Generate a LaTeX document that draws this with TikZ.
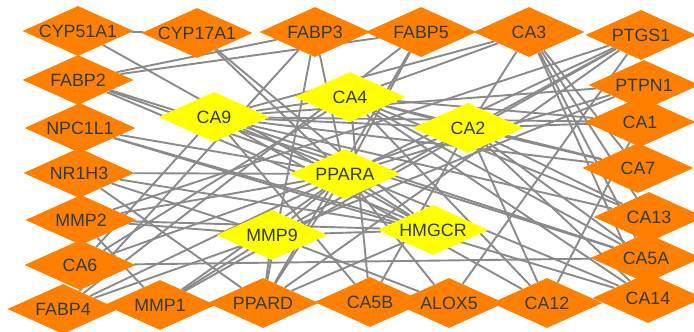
\documentclass[tikz,border=0pt]{standalone}
\usepackage{fontspec}
\setmainfont{Liberation Sans}
\usetikzlibrary{shapes.geometric,backgrounds}
\definecolor{gene}{HTML}{FF8000}
\definecolor{hub}{HTML}{FFFF00}
\definecolor{lbl}{HTML}{2F3B35}
\definecolor{link}{HTML}{8A8A8A}
\tikzset{
  gtext/.style={text=lbl, font=\fontsize{17.8}{18}\selectfont, inner sep=0pt},
  gbase/.style={shape=diamond, minimum width=111pt, minimum height=50pt,
    inner sep=0pt, label={[gtext]center:#1}},
  gnode/.style={gbase=#1, fill=gene},
  hnode/.style={gbase=#1, fill=hub},
  ppi/.style={draw=link, line width=1.9pt}
}
\begin{document}
\begin{tikzpicture}[x=1pt,y=-1pt]
\useasboundingbox (0,0) rectangle (694,332);
% outer ring of genes
\node[gnode=CYP51A1] (CYP51A1) at (78,31) {};
\node[gnode=CYP17A1] (CYP17A1) at (197,33) {};
\node[gnode=FABP3] (FABP3) at (315,32) {};
\node[gnode=FABP5] (FABP5) at (421,32) {};
\node[gnode=CA3] (CA3) at (529,32) {};
\node[gnode=PTGS1] (PTGS1) at (641,35) {};
\node[gnode=FABP2] (FABP2) at (78,80) {};
\node[gnode=PTPN1] (PTPN1) at (644,85) {};
\node[gnode=NPC1L1] (NPC1L1) at (80,128) {};
\node[gnode=CA1] (CA1) at (640,122) {};
\node[gnode=NR1H3] (NR1H3) at (79,173) {};
\node[gnode=CA7] (CA7) at (638,168) {};
\node[gnode=MMP2] (MMP2) at (81,220) {};
\node[gnode=CA13] (CA13) at (649,217) {};
\node[gnode=CA6] (CA6) at (80,265) {};
\node[gnode=CA5A] (CA5A) at (646,258) {};
\node[gnode=FABP4] (FABP4) at (63,309) {};
\node[gnode=MMP1] (MMP1) at (160,305) {};
\node[gnode=PPARD] (PPARD) at (263,303) {};
\node[gnode=CA5B] (CA5B) at (370,302) {};
\node[gnode=ALOX5] (ALOX5) at (449,303) {};
\node[gnode=CA12] (CA12) at (547,303) {};
\node[gnode=CA14] (CA14) at (648,298) {};
% hub genes
\node[hnode=CA9] (CA9) at (214,117) {};
\node[hnode=CA4] (CA4) at (350,97) {};
\node[hnode=CA2] (CA2) at (468,128) {};
\node[hnode=PPARA] (PPARA) at (345,174) {};
\node[hnode=MMP9] (MMP9) at (272,235) {};
\node[hnode=HMGCR] (HMGCR) at (433,230) {};
% interactions
\begin{scope}[on background layer]
\foreach \a/\b in {
  CYP51A1/CYP17A1, CYP51A1/HMGCR, CYP17A1/HMGCR, CYP17A1/PPARA,
  FABP2/FABP3, FABP2/FABP5, FABP2/PPARA, FABP2/HMGCR, FABP2/CA5A,
  FABP3/FABP5, FABP3/FABP4, FABP3/PPARA, FABP3/PPARD,
  FABP5/PPARA, FABP5/PPARD, FABP5/FABP4,
  NPC1L1/PPARA, NPC1L1/HMGCR, NPC1L1/CA14,
  NR1H3/PPARA, NR1H3/HMGCR, NR1H3/PPARD, NR1H3/MMP9,
  MMP2/MMP9, MMP2/MMP1, MMP2/PTGS1, MMP2/PPARA, MMP2/HMGCR,
  CA6/CA9, CA6/CA4, CA6/CA2, CA6/CA5A,
  FABP4/PPARA, FABP4/PPARD, FABP4/MMP9,
  MMP1/MMP9, MMP1/PTGS1, MMP1/PPARA,
  PPARD/PPARA, PPARD/MMP9, PPARD/HMGCR, PPARD/PTGS1,
  CA5B/CA2, CA5B/CA4, CA5B/CA9,
  ALOX5/PTGS1, ALOX5/MMP9, ALOX5/PPARA,
  CA12/CA9, CA12/CA4, CA12/CA2, CA12/CA1,
  CA14/CA9, CA14/CA4, CA14/CA2, CA14/CA3,
  CA5A/CA9, CA5A/CA4, CA5A/CA2, CA5A/CA3,
  CA13/CA9, CA13/CA4, CA13/CA2, CA13/CA3,
  CA7/CA9, CA7/CA4, CA7/CA2, CA7/CA3,
  CA1/CA9, CA1/CA4, CA1/CA2,
  PTPN1/PPARA, PTPN1/MMP9, PTPN1/CA9,
  PTGS1/MMP9, PTGS1/PPARA,
  CA3/CA2, CA3/CA9, CA3/CA4,
  CA4/CA2, CA4/CA9, CA9/CA2,
  MMP9/HMGCR, MMP9/PPARA, PPARA/HMGCR}
  \draw[ppi] (\a) -- (\b);
\end{scope}
\end{tikzpicture}
\end{document}
